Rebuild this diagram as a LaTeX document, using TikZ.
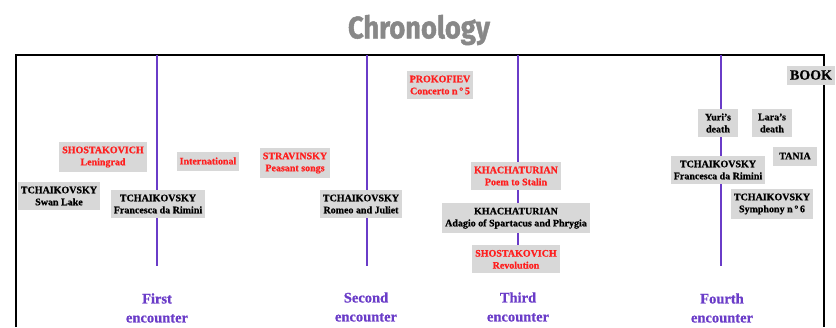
\documentclass[tikz,border=0pt]{standalone}
\usepackage{fontspec}
\setmainfont{Liberation Serif}[BoldFont={Liberation Serif Bold}, BoldFeatures={FakeBold=0.8}]
\newfontfamily\titlefont{Fira Sans}[BoldFont={Fira Sans Bold}, BoldFeatures={FakeBold=1.5}]
\usepackage{tikz}
\usetikzlibrary{positioning}

\definecolor{boxgray}{HTML}{D8D8D8}
\definecolor{eventred}{HTML}{FF1E1E}
\definecolor{linepurple}{HTML}{6A3CC8}
\definecolor{titlegray}{HTML}{888888}

\tikzset{
  event/.style={fill=boxgray, inner xsep=3pt, inner ysep=4.5pt, minimum height=19pt, align=center, font=\bfseries\fontsize{10}{12}\selectfont},
  redevent/.style={event, text=eventred},
  timeline/.style={draw=linepurple, line width=1.6pt},
  encounter/.style={align=center, text=linepurple, font=\bfseries\fontsize{14.5}{19}\selectfont}
}

\begin{document}
\begin{tikzpicture}[x=1pt, y=-1pt, node distance=13pt]
    \useasboundingbox (0,0) rectangle (836,327);
    % frame and title
    \node (title) at (419,30) {\titlefont\bfseries\fontsize{31}{31}\selectfont\color{titlegray}\scalebox{0.88}[1]{Chronology}};
    \coordinate (tl) at (16,55);
    \coordinate (tr) at (824,55);
    \coordinate (bl) at (16,327);
    \coordinate (br) at (824,327);
    \draw[line width=1.6pt] (bl) -- (tl) -- (tr) -- (br);
    % the four encounters
    \foreach \name/\x in {one/157, two/367, three/518, four/721} {
      \coordinate (\name top) at (\x,55);
      \coordinate (\name end) at (\x,266);
      \draw[timeline] (\name top) -- (\name end);
    }
    \node[encounter] (first)  at (157,308) {First\\encounter};
    \node[encounter] (second) at (366,307) {Second\\encounter};
    \node[encounter] (third)  at (518,307) {Third\\encounter};
    \node[encounter] (fourth) at (722,308) {Fourth\\encounter};

    % first encounter
    \node[redevent] (lenin) at (103,157) {SHOSTAKOVICH\\Leningrad};
    \node[redevent] (intl)  at (208,161) {International};
    \node[event]    (swan)  at (59,196)  {TCHAIKOVSKY\\Swan Lake};
    \node[event]    (franc) at (158,204) {TCHAIKOVSKY\\Francesca da Rimini};
    % second encounter
    \node[redevent] (strav) at (295,163) {STRAVINSKY\\Peasant songs};
    \node[event]    (romeo) at (361,204) {TCHAIKOVSKY\\Romeo and Juliet};
    % third encounter
    \node[redevent] (prok)  at (440,85)  {PROKOFIEV\\Concerto n\,\textdegree\,5};
    \node[redevent] (poem)  at (516,176) {KHACHATURIAN\\Poem to Stalin};
    \node[event]    (adagio)[below=of poem] {KHACHATURIAN\\Adagio of Spartacus and Phrygia};
    \node[redevent] (revol) [below=12pt of adagio] {SHOSTAKOVICH\\Revolution};
    % fourth encounter
    \node[event, font=\bfseries\fontsize{14}{14}\selectfont] (book) at (811,75) {BOOK};
    \node[event, minimum width=40pt] (yuri) at (718,123) {Yuri's\\death};
    \node[event, minimum width=40pt] (lara) at (772,123) {Lara's\\death};
    \node[event, minimum width=44pt] (tania) at (795,156) {TANIA};
    \node[event]    (franc2) at (718,170) {TCHAIKOVSKY\\Francesca da Rimini};
    \node[event]    (symph)  at (772,204) {TCHAIKOVSKY\\Symphony n\,\textdegree\,6};
  \end{tikzpicture}
\end{document}
